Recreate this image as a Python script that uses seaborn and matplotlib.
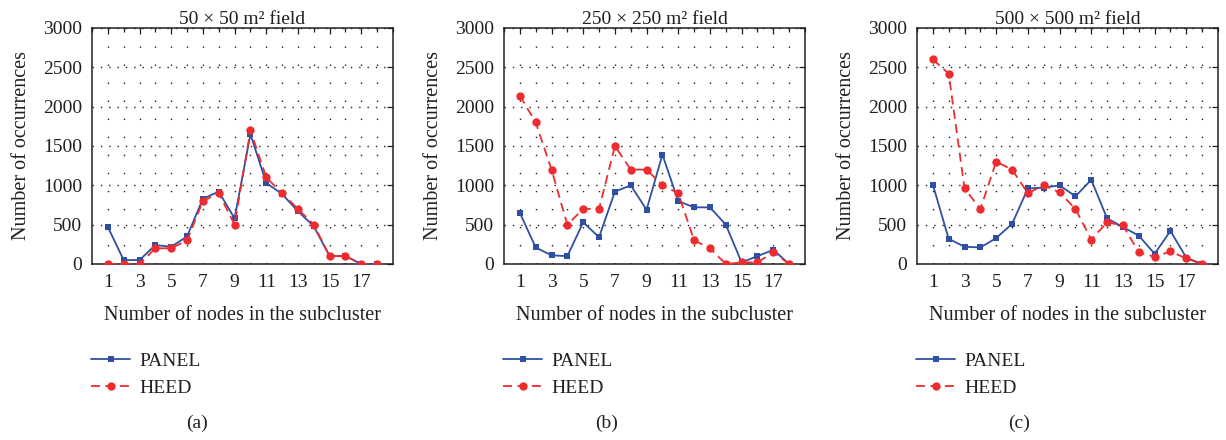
import numpy as np
import pandas as pd
import seaborn as sns
import matplotlib.pyplot as plt
from matplotlib.ticker import MultipleLocator

# Data
nodes = list(range(1, 19))

panel_50 = [470, 50, 50, 240, 220, 350, 830, 920, 580, 1650, 1030, 890, 670, 480, 100, 100, 0, 0]
heed_50 = [0, 0, 0, 200, 200, 300, 800, 900, 500, 1700, 1100, 900, 700, 500, 100, 100, 0, 0]

panel_250 = [650, 210, 110, 100, 530, 340, 920, 1000, 690, 1390, 800, 720, 720, 500, 20, 100, 180, 0]
heed_250 = [2140, 1800, 1200, 500, 700, 700, 1500, 1200, 1200, 1000, 900, 300, 200, 0, 20, 20, 150, 0]

panel_500 = [1010, 320, 220, 210, 330, 510, 960, 970, 1000, 860, 1070, 580, 470, 360, 130, 420, 80, 0]
heed_500 = [2600, 2420, 960, 700, 1300, 1200, 900, 1000, 910, 700, 310, 530, 490, 150, 90, 160, 70, 0]

titles = ['50 × 50 m² field', '250 × 250 m² field', '500 × 500 m² field']
sub_labels = ['(a)', '(b)', '(c)']
xtick_labels = [str(i) for i in range(1, 18, 2)]

sns.set_theme(style='white')
plt.rcParams['font.family'] = ['Liberation Serif', 'DejaVu Serif']
plt.rcParams['text.color'] = '#231f20'
plt.rcParams['axes.labelcolor'] = '#231f20'
plt.rcParams['xtick.color'] = '#231f20'
plt.rcParams['ytick.color'] = '#231f20'

blue = '#2f4fa2'
red = '#ee2b2f'

fig = plt.figure(figsize=(12.26, 4.4), dpi=100)
W, H = 1226, 440
lefts = [92, 504, 917]
ax_w = 301
top, bottom = 28, 264

series = [(panel_50, heed_50), (panel_250, heed_250), (panel_500, heed_500)]

for i, (p, h) in enumerate(series):
    ax = fig.add_axes([lefts[i] / W, 1 - bottom / H, ax_w / W, (bottom - top) / H])
    df = pd.DataFrame({'nodes': nodes, 'PANEL': p, 'HEED': h})

    sns.lineplot(data=df, x='nodes', y='PANEL', ax=ax, color=blue, lw=1.3,
                 marker='s', markersize=4.5, markeredgewidth=0, label='PANEL', zorder=3)
    sns.lineplot(data=df, x='nodes', y='HEED', ax=ax, color=red, lw=1.3,
                 dashes=(5, 3), marker='o', markersize=6, markeredgewidth=0,
                 label='HEED', zorder=4)

    ax.set_xlim(0, 19)
    ax.set_ylim(0, 3000)
    ax.set_xticks(range(1, 18, 2))
    ax.set_xticklabels(xtick_labels)
    ax.xaxis.set_minor_locator(MultipleLocator(1))
    ax.yaxis.set_major_locator(MultipleLocator(500))

    # dotted grid
    for xv in range(1, 19):
        ax.axvline(xv, color='#231f20', lw=1.0, ls=(0, (1, 12)), zorder=1)
    ax.grid(axis='y', which='major', color='#231f20', lw=1.0, ls=(0, (1, 5)), zorder=1)

    ax.tick_params(axis='both', which='both', direction='in', top=True, right=True,
                   labelsize=14, pad=7)
    ax.tick_params(which='major', length=4, width=0.9)
    ax.tick_params(which='minor', length=3, width=0.9)
    for s in ax.spines.values():
        s.set_color('#231f20')
        s.set_linewidth(1.1)

    ax.set_title(titles[i], fontsize=14, pad=3)
    ax.set_xlabel('Number of nodes in the subcluster', fontsize=14.5, labelpad=11)
    ax.set_ylabel('Number of occurrences', fontsize=14.5, labelpad=9)

    ax.legend(loc='upper left', bbox_to_anchor=(-0.06, -0.30), frameon=False,
              fontsize=14, handlelength=2.0, handletextpad=0.45, labelspacing=0.5)

label_x = [197, 607, 1019]
for i in range(3):
    fig.text(label_x[i] / W, 1 - 423 / H, sub_labels[i], ha='center', va='center', fontsize=14)

fig.savefig('out.png', dpi=100)
